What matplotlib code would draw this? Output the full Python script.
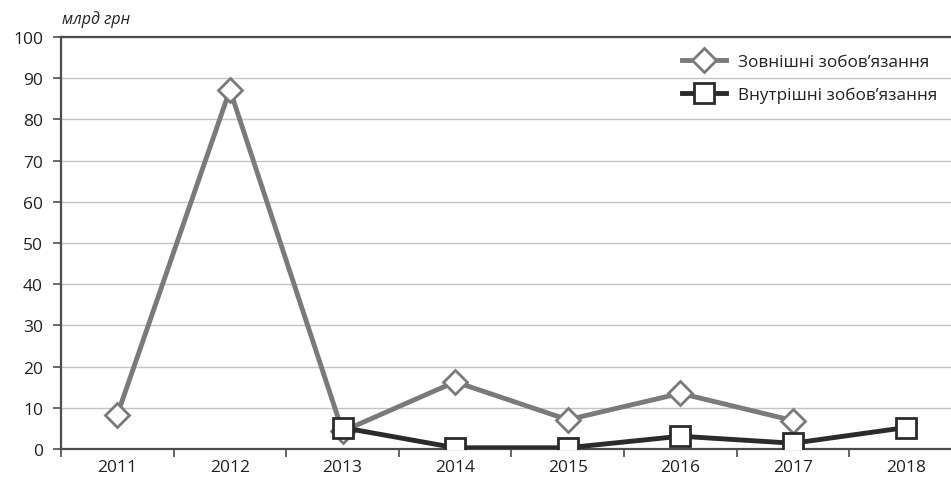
import numpy as np
import matplotlib.pyplot as plt
from matplotlib.lines import Line2D

plt.rcParams['font.family'] = ['Open Sans', 'DejaVu Sans']

years = ['2011', '2012', '2013', '2014', '2015', '2016', '2017', '2018']
external = [8.3, 87.2, 4.3, 16.3, 7.1, 13.5, 6.9, np.nan]
internal = [np.nan, np.nan, 5.2, 0.3, 0.3, 3.1, 1.4, 5.2]

grey = '#7a7a7a'
dark = '#2b2b2b'
axis_col = '#4d4d4d'

fig = plt.figure(figsize=(9.51, 4.81), dpi=100)
ax = fig.add_axes([61 / 951, 1 - 450 / 481, 901 / 951, 412 / 481])

x = np.arange(len(years))
ax.plot(x, external, color=grey, lw=3.5, marker='D', ms=12,
        mfc='white', mec=grey, mew=2, zorder=3)
ax.plot(x, internal, color=dark, lw=3.5, marker='s', ms=15,
        mfc='white', mec=dark, mew=2, zorder=4)

ax.set_xlim(-0.5, len(years) - 0.5)
ax.set_ylim(0, 100)
ax.set_yticks(range(0, 101, 10))
ax.set_xticks(x)
ax.set_xticklabels(years)
ax.set_xticks(np.arange(-0.5, len(years), 1), minor=True)
ax.tick_params(axis='x', which='major', length=0, pad=7, labelsize=12.5, colors='#222222')
ax.tick_params(axis='x', which='minor', length=6, width=1.2, color=axis_col, direction='out')
ax.tick_params(axis='y', length=6, width=1.2, color=axis_col, pad=7, labelsize=12.5,
               labelcolor='#222222')

ax.grid(axis='y', color='#c4c4c4', lw=1)
ax.set_axisbelow(True)
ax.spines['right'].set_visible(False)
for side in ['left', 'bottom', 'top']:
    ax.spines[side].set_color(axis_col)
    ax.spines[side].set_linewidth(1.6)

ax.text(0.001, 1.025, 'млрд грн', transform=ax.transAxes, style='italic',
        fontsize=11.5, color='#222222', ha='left', va='bottom')

handles = [
    Line2D([], [], color=grey, lw=3.5, marker='D', ms=12, mfc='white', mec=grey, mew=2),
    Line2D([], [], color=dark, lw=3.5, marker='s', ms=15, mfc='white', mec=dark, mew=2),
]
ax.legend(handles, ['Зовнішні зобов’язання', 'Внутрішні зобов’язання'],
          loc='upper left', bbox_to_anchor=(0.672, 0.995), frameon=False,
          fontsize=12.3, handlelength=2.6, handletextpad=0.7, labelspacing=0.95,
          labelcolor='#222222')

fig.savefig('out.png', dpi=100)
